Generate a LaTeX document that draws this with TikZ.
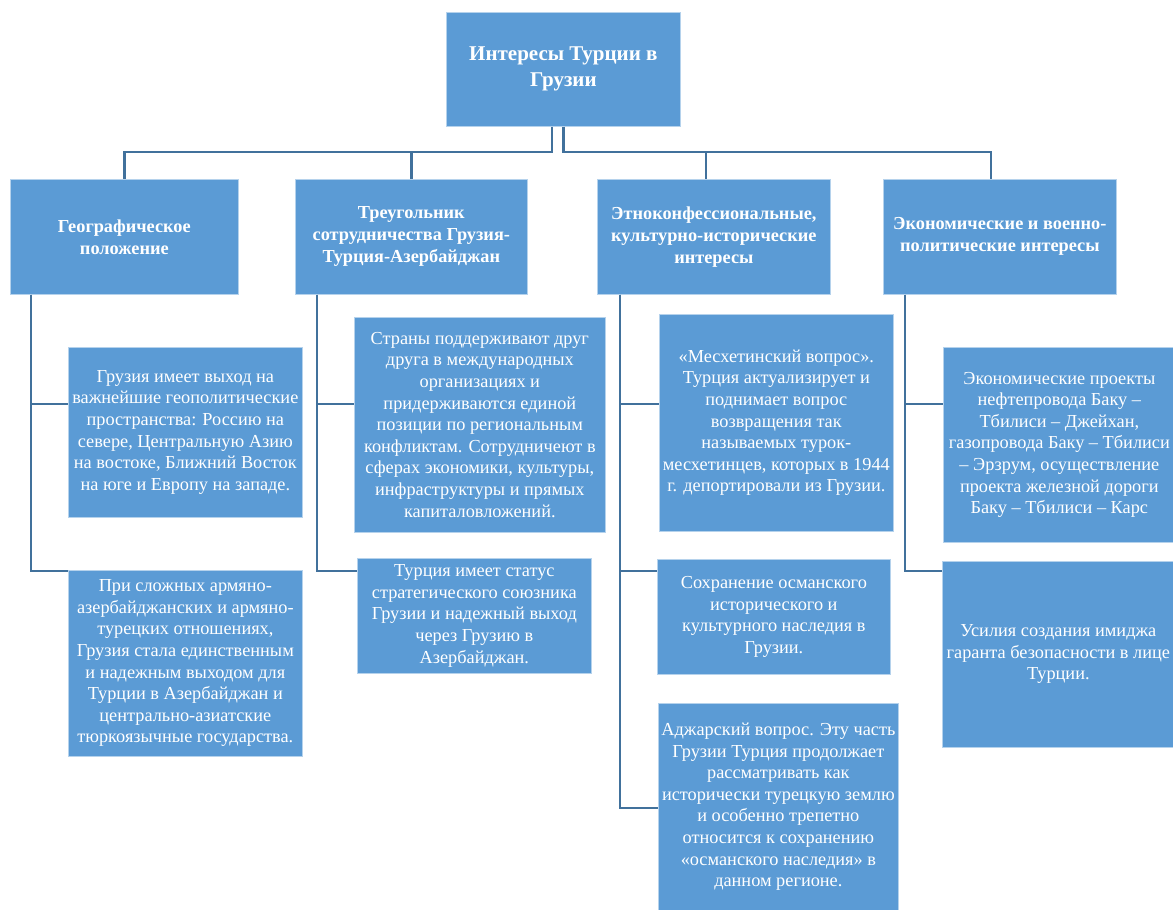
\documentclass[tikz,border=0pt]{standalone}
\usepackage{fontspec}
\setmainfont{Liberation Serif}
\definecolor{boxblue}{HTML}{5B9BD5}
\definecolor{linkblue}{HTML}{41719C}
\begin{document}
\begin{tikzpicture}[x=1pt,y=-1pt,
  box/.style={draw=white!55!boxblue, line width=0.7pt, fill=boxblue, text=white,
    align=center, inner sep=0pt, anchor=north west},
  body/.style={font=\fontsize{18.3}{21.6}\selectfont},
  head/.style={font=\bfseries\fontsize{18.3}{22}\selectfont},
  title/.style={font=\bfseries\fontsize{21}{26}\selectfont},
  conn/.style={draw=linkblue, line width=2.6pt},
]
\useasboundingbox[fill=white] (0,0) rectangle (1173,910);

% root and level 1
\node[box, title, minimum width=234pt, minimum height=114pt] (root) at (446,12)
  {Интересы Турции в\\Грузии};
\node[box, head, minimum width=228pt, minimum height=115pt] (geo) at (10,179)
  {Географическое\\положение};
\node[box, head, minimum width=232pt, minimum height=115pt] (tri) at (295,179)
  {Треугольник\\сотрудничества Грузия-\\Турция-Азербайджан};
\node[box, head, minimum width=233pt, minimum height=115pt] (eth) at (597,179)
  {Этноконфессиональные,\\культурно-исторические\\интересы};
\node[box, head, minimum width=233pt, minimum height=115pt] (eco) at (883,179)
  {Экономические и военно-\\политические интересы};

% level 2
\node[box, body, minimum width=234pt, minimum height=170pt] (g1) at (68,347)
  {Грузия имеет выход на\\важнейшие геополитические\\пространства: Россию на\\севере, Центральную Азию\\на востоке, Ближний Восток\\на юге и Европу на западе.};
\node[box, body, minimum width=234pt, minimum height=186pt] (g2) at (68,570)
  {При сложных армяно-\\азербайджанских и армяно-\\турецких отношениях,\\Грузия стала единственным\\и надежным выходом для\\Турции в Азербайджан и\\центрально-азиатские\\тюркоязычные государства.};
\node[box, body, minimum width=251pt, minimum height=215pt] (t1) at (354,317)
  {Страны поддерживают друг\\друга в международных\\организациях и\\придерживаются единой\\позиции по региональным\\конфликтам. Сотрудничеют в\\сферах экономики, культуры,\\инфраструктуры и прямых\\капиталовложений.};
\node[box, body, minimum width=234pt, minimum height=115pt] (t2) at (357,558)
  {Турция имеет статус\\стратегического союзника\\Грузии и надежный выход\\через Грузию в\\Азербайджан.};
\node[box, body, minimum width=234pt, minimum height=217pt] (e1) at (659,314)
  {«Месхетинский вопрос».\\Турция актуализирует и\\поднимает вопрос\\возвращения так\\называемых турок-\\месхетинцев, которых в 1944\\г. депортировали из Грузии.};
\node[box, body, minimum width=233pt, minimum height=115pt] (e2) at (657,559)
  {Сохранение османского\\исторического и\\культурного наследия в\\Грузии.};
\node[box, body, minimum width=240pt, minimum height=207pt] (e3) at (658,703)
  {Аджарский вопрос. Эту часть\\Грузии Турция продолжает\\рассматривать как\\исторически турецкую землю\\и особенно трепетно\\относится к сохранению\\«османского наследия» в\\данном регионе.};
\node[box, body, minimum width=232pt, minimum height=195pt] (c1) at (943,347)
  {Экономические проекты\\нефтепровода Баку –\\Тбилиси – Джейхан,\\газопровода Баку – Тбилиси\\– Эрзрум, осуществление\\проекта железной дороги\\Баку – Тбилиси – Карс};
\node[box, body, minimum width=232pt, minimum height=186pt] (c2) at (942,561)
  {Усилия создания имиджа\\гаранта безопасности в лице\\Турции.};

% helper coordinates
\coordinate (lx) at (552,0);
\coordinate (hy) at (0,152);
\coordinate (ex) at (706,0);
\coordinate (cx) at (991,0);
\coordinate (ca) at (31,0);
\coordinate (cb) at (317,0);
\coordinate (cc) at (620,0);
\coordinate (cd) at (905,0);
\coordinate (r1) at (0,404);
\coordinate (r2) at (0,571);
\coordinate (r3) at (0,808);

% top connectors
\draw[conn] (root.south -| lx) |- (geo.north |- hy) -- (geo.north);
\draw[conn] (tri.north |- hy) -- (tri.north);
\draw[conn] (root.south) |- (cx |- hy) -- (eco.north -| cx);
\draw[conn] (ex |- hy) -- (eth.north -| ex);

% column connectors
\draw[conn] (geo.south -| ca) |- (g1.west |- r1);
\draw[conn] (geo.south -| ca) |- (g2.west |- r2);
\draw[conn] (tri.south -| cb) |- (t1.west |- r1);
\draw[conn] (tri.south -| cb) |- (t2.west |- r2);
\draw[conn] (eth.south -| cc) |- (e1.west |- r1);
\draw[conn] (eth.south -| cc) |- (e2.west |- r2);
\draw[conn] (eth.south -| cc) |- (e3.west |- r3);
\draw[conn] (eco.south -| cd) |- (c1.west |- r1);
\draw[conn] (eco.south -| cd) |- (c2.west |- r2);
\end{tikzpicture}
\end{document}
